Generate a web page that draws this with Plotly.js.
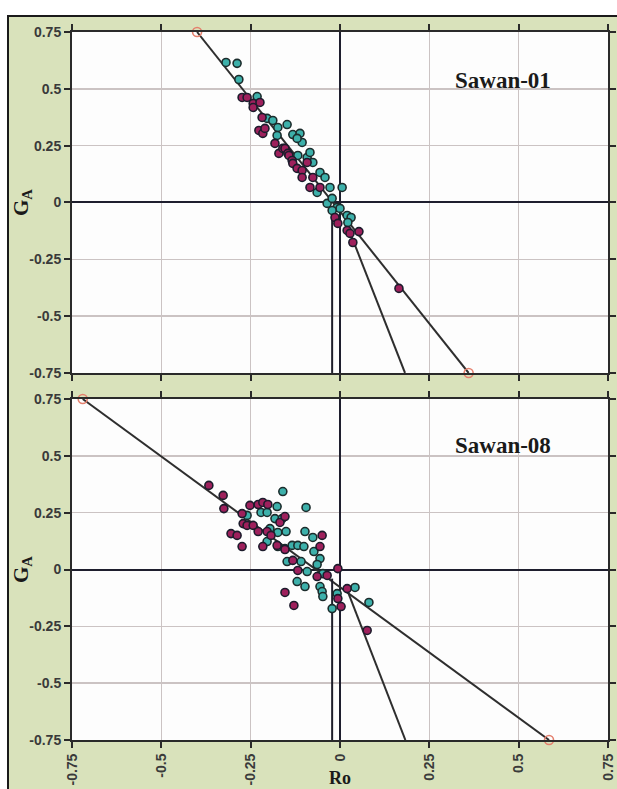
<!DOCTYPE html>
<html>
<head>
<meta charset="utf-8">
<script src="https://cdn.plot.ly/plotly-3.0.1.min.js"></script>
<style>
html,body{margin:0;padding:0;background:#ffffff;overflow:hidden;width:617px;height:789px;}
#frame{position:absolute;left:7px;top:15px;width:610px;height:790px;border-top:2px solid #1a1a1a;border-left:2px solid #1a1a1a;background:#d9e2bb;overflow:hidden;}
#chart{position:absolute;left:0;top:0;width:608px;height:773px;}
</style>
</head>
<body>
<div id="frame"><div id="chart"></div></div>
<script>
// ---- data ----
var tickVals = [-0.75, -0.5, -0.25, 0, 0.25, 0.5, 0.75];
var tickText = ["-0.75", "-0.5", "-0.25", "0", "0.25", "0.5", "0.75"];

// Sawan-01 (top panel)
var s01_magenta_x = [-0.274,-0.260,-0.243,-0.243,-0.224,-0.218,-0.227,-0.216,-0.210,-0.182,-0.171,-0.160,-0.154,-0.146,-0.143,-0.134,-0.132,-0.120,-0.106,-0.106,-0.092,-0.084,-0.056,-0.076,-0.014,-0.006,0.020,0.028,0.053,0.036,0.165];
var s01_magenta_y = [0.462,0.462,0.436,0.418,0.440,0.374,0.317,0.304,0.326,0.260,0.216,0.238,0.238,0.216,0.207,0.185,0.172,0.150,0.141,0.110,0.176,0.066,0.066,0.110,-0.066,-0.092,-0.123,-0.136,-0.128,-0.176,-0.378];
var s01_teal_x = [-0.319,-0.288,-0.283,-0.232,-0.204,-0.188,-0.174,-0.148,-0.132,-0.112,-0.106,-0.120,-0.118,-0.092,-0.084,-0.076,-0.056,-0.042,-0.028,0.006,-0.064,-0.036,-0.022,-0.008,0.000,-0.022,0.020,0.031,0.022,-0.176];
var s01_teal_y = [0.616,0.612,0.541,0.466,0.370,0.361,0.330,0.343,0.299,0.304,0.264,0.282,0.207,0.198,0.220,0.176,0.132,0.110,0.066,0.066,0.044,-0.004,0.018,-0.022,-0.026,-0.035,-0.057,-0.066,-0.088,0.295];
var s01_line_x = [-0.40, 0.36];
var s01_line_y = [0.75, -0.75];
var s01_steep_x = [0.020, 0.182];
var s01_steep_y = [-0.10, -0.75];
var s01_vert_x = [-0.022, -0.022];
var s01_vert_y = [-0.04, -0.75];

// Sawan-08 (bottom panel)
var s08_magenta_x = [-0.367,-0.327,-0.325,-0.274,-0.252,-0.229,-0.216,-0.202,-0.271,-0.260,-0.243,-0.229,-0.204,-0.193,-0.305,-0.288,-0.274,-0.216,-0.176,-0.168,-0.154,-0.154,-0.132,-0.118,-0.154,-0.129,-0.050,-0.056,-0.064,-0.036,-0.006,-0.006,0.003,0.020,0.076];
var s08_magenta_y = [0.370,0.326,0.268,0.246,0.282,0.286,0.295,0.286,0.202,0.194,0.194,0.167,0.167,0.150,0.158,0.150,0.101,0.101,0.106,0.207,0.233,0.088,0.040,-0.004,-0.101,-0.158,0.150,0.101,-0.031,-0.026,0.004,-0.128,-0.163,-0.084,-0.268];
var s08_teal_x = [-0.160,-0.176,-0.095,-0.260,-0.221,-0.204,-0.182,-0.162,-0.196,-0.174,-0.151,-0.098,-0.076,-0.204,-0.174,-0.154,-0.134,-0.118,-0.101,-0.073,-0.056,-0.064,-0.048,-0.148,-0.109,-0.092,-0.120,-0.098,-0.056,-0.050,-0.048,-0.008,0.042,0.081,-0.022];
var s08_teal_y = [0.343,0.277,0.273,0.238,0.251,0.251,0.224,0.224,0.180,0.163,0.167,0.167,0.141,0.123,0.101,0.092,0.106,0.106,0.101,0.079,0.048,0.022,-0.018,0.035,0.035,-0.009,-0.053,-0.075,-0.075,-0.097,-0.119,-0.106,-0.079,-0.145,-0.172];
var s08_line_x = [-0.72, 0.585];
var s08_line_y = [0.75, -0.75];
var s08_steep_x = [0.020, 0.183];
var s08_steep_y = [-0.09, -0.75];
var s08_vert_x = [-0.022, -0.022];
var s08_vert_y = [-0.04, -0.75];

// ---- styles ----
var lineStyle = {color: '#2e2e2e', width: 2};
var magentaMarker = {size: 8, color: '#9e205c', line: {color: '#1c1c2c', width: 1.6}};
var tealMarker = {size: 8, color: '#3db0aa', line: {color: '#1c2c2c', width: 1.6}};
var endMarker = {size: 9, symbol: 'circle-open', color: '#e4806e', line: {width: 1.6}};

function panel(xa, ya, lx, ly, sx, sy, vx, vy, mx, my, tx, ty) {
  return [
    {x: lx, y: ly, xaxis: xa, yaxis: ya, mode: 'lines', line: lineStyle, hoverinfo: 'skip', showlegend: false},
    {x: sx, y: sy, xaxis: xa, yaxis: ya, mode: 'lines', line: lineStyle, hoverinfo: 'skip', showlegend: false},
    {x: vx, y: vy, xaxis: xa, yaxis: ya, mode: 'lines', line: {color: '#1e1e2a', width: 2}, hoverinfo: 'skip', showlegend: false},
    {x: tx, y: ty, xaxis: xa, yaxis: ya, mode: 'markers', marker: tealMarker, showlegend: false},
    {x: mx, y: my, xaxis: xa, yaxis: ya, mode: 'markers', marker: magentaMarker, showlegend: false},
    {x: lx, y: ly, xaxis: xa, yaxis: ya, mode: 'markers', marker: endMarker, cliponaxis: false, showlegend: false}
  ];
}

var data = [].concat(
  panel('x', 'y', s01_line_x, s01_line_y, s01_steep_x, s01_steep_y, s01_vert_x, s01_vert_y, s01_magenta_x, s01_magenta_y, s01_teal_x, s01_teal_y),
  panel('x2', 'y2', s08_line_x, s08_line_y, s08_steep_x, s08_steep_y, s08_vert_x, s08_vert_y, s08_magenta_x, s08_magenta_y, s08_teal_x, s08_teal_y)
);

var tickFont = {family: 'Liberation Sans, Arial, sans-serif', size: 14, color: '#3a3a3a', weight: 'bold'};
var titleFont = {family: 'Liberation Serif, Times New Roman, serif', size: 21, color: '#1a1a1a', weight: 'bold'};

function axisBase() {
  return {
    range: [-0.75, 0.75], tickmode: 'array', tickvals: tickVals, ticktext: tickText,
    ticks: 'outside', ticklen: 6, tickwidth: 2, tickcolor: '#2a2a2a',
    showline: true, mirror: 'ticks', linecolor: '#2a2a2a', linewidth: 2,
    showgrid: true, gridcolor: '#cbc3c3', gridwidth: 1.5,
    zeroline: true, zerolinecolor: '#1e1e2e', zerolinewidth: 2,
    tickfont: tickFont, fixedrange: true, automargin: false
  };
}

var xTop = axisBase(); xTop.anchor = 'y'; xTop.domain = [0, 1]; xTop.showticklabels = false;
var xBot = axisBase(); xBot.anchor = 'y2'; xBot.domain = [0, 1]; xBot.tickangle = -90;
var yTop = axisBase(); yTop.anchor = 'x'; yTop.domain = [0.5184, 1];
yTop.title = {text: 'G<sub>A</sub>', font: titleFont, standoff: 8};
var yBot = axisBase(); yBot.anchor = 'x2'; yBot.domain = [0, 0.4816];
yBot.title = {text: 'G<sub>A</sub>', font: titleFont, standoff: 8};

var labelFont = {family: 'Liberation Serif, Times New Roman, serif', size: 23, color: '#1a1a1a', weight: 'bold'};

var layout = {
  width: 608, height: 773,
  margin: {l: 63, r: 9, t: 15, b: 50},
  paper_bgcolor: 'rgba(0,0,0,0)',
  plot_bgcolor: '#fdfdfd',
  showlegend: false,
  xaxis: xTop, yaxis: yTop, xaxis2: xBot, yaxis2: yBot,
  annotations: [
    {xref: 'x', yref: 'y', x: 0.456, y: 0.537, text: 'Sawan-01', showarrow: false, font: labelFont},
    {xref: 'x2', yref: 'y2', x: 0.456, y: 0.546, text: 'Sawan-08', showarrow: false, font: labelFont},
    {xref: 'paper', yref: 'paper', x: 0.5, y: -0.0367, yanchor: 'top', text: 'Ro', showarrow: false, font: {family: 'Liberation Serif, Times New Roman, serif', size: 18, color: '#1a1a1a', weight: 'bold'}}
  ]
};

Plotly.newPlot('chart', data, layout, {displayModeBar: false, staticPlot: true});
</script>
</body>
</html>
